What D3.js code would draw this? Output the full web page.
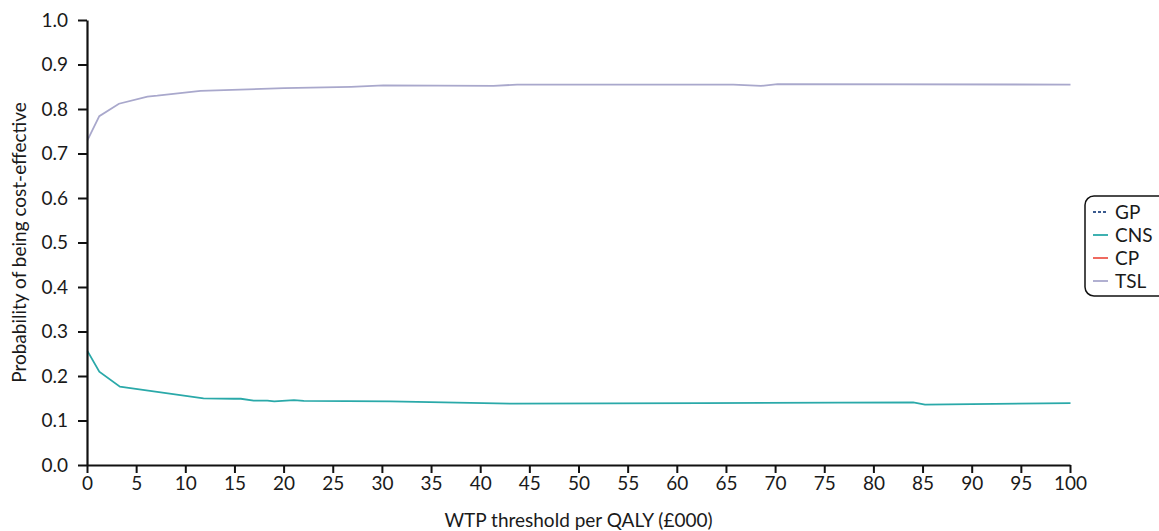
<!DOCTYPE html>
<html>
<head>
<meta charset="utf-8">
<script src="https://cdn.jsdelivr.net/npm/d3@7"></script>
<style>
  body { margin: 0; background: #fff; }
  text { font-family: Lato, "Open Sans", sans-serif; fill: #1a1a1a; }
</style>
</head>
<body>
<script>
// WTP threshold (£000) and probability of being cost-effective
var tslX = [0, 1.2, 3.2, 6.1, 7.1, 11.5, 20, 26.8, 30.1, 41.3, 43.7, 65.7, 68.5, 70.2, 100];
var tslY = [0.731, 0.785, 0.813, 0.829, 0.831, 0.842, 0.848, 0.851, 0.854, 0.853, 0.856, 0.856, 0.853, 0.857, 0.856];

var cnsX = [0, 1.2, 3.3, 4.0, 11.8, 14.9, 15.6, 16.9, 18.3, 19.0, 21.0, 22.0, 30.8, 43.3, 62.4, 84.0, 85.2, 100];
var cnsY = [0.257, 0.211, 0.177, 0.175, 0.151, 0.150, 0.150, 0.146, 0.146, 0.144, 0.147, 0.145, 0.144, 0.139, 0.140, 0.142, 0.137, 0.140];

// GP and CP are never cost-effective: they lie on the x axis
var zeroX = [0, 100];
var gpY = [0, 0];
var cpY = [0, 0];

var xTicks = d3.range(0, 101, 5);
var yTicks = d3.range(0, 1.01, 0.1);

var series = [
  {name: "GP", xs: zeroX, ys: gpY, color: "#3a5a8f", dash: "3,2"},
  {name: "CNS", xs: cnsX, ys: cnsY, color: "#2aa9a9", dash: null},
  {name: "CP", xs: zeroX, ys: cpY, color: "#ee5a4f", dash: null},
  {name: "TSL", xs: tslX, ys: tslY, color: "#a9a8cc", dash: null}
];

var width = 1159, height = 531;
var fs = 19;

var svg = d3.select("body")
  .append("svg")
  .attr("width", width)
  .attr("height", height);

var x = d3.scaleLinear().domain([0, 100]).range([87, 1070]);
var y = d3.scaleLinear().domain([0, 1]).range([465, 20]);

var line = d3.line()
  .x(function(d) { return x(d[0]); })
  .y(function(d) { return y(d[1]); });

// lines first, so the all-zero series hide under the axis
var plot = svg.append("g").attr("transform", "translate(0.5,0.5)");
series.forEach(function(s) {
  var pts = s.xs.map(function(v, i) { return [v, s.ys[i]]; });
  var flat = d3.max(s.ys) === 0;
  plot.append("path")
    .datum(pts)
    .attr("d", line)
    .attr("fill", "none")
    .attr("stroke", s.color)
    .attr("stroke-width", flat ? 1 : 1.8)
    .attr("stroke-dasharray", s.dash);
});

var xAxis = svg.append("g")
  .attr("transform", "translate(0," + y(0) + ")")
  .call(d3.axisBottom(x).tickValues(xTicks).tickSize(8).tickSizeOuter(0).tickFormat(d3.format("d")));

var yAxis = svg.append("g")
  .attr("transform", "translate(" + x(0) + ",0)")
  .call(d3.axisLeft(y).tickValues(yTicks).tickSize(9).tickSizeOuter(0).tickFormat(d3.format(".1f")));

[xAxis, yAxis].forEach(function(a) {
  a.select(".domain").attr("stroke", "#111").attr("stroke-width", 2.2);
  a.selectAll(".tick line").attr("stroke", "#111").attr("stroke-width", 2);
  a.selectAll(".tick text").attr("font-size", fs).attr("fill", "#1a1a1a")
    .style("font-family", "Lato, 'Open Sans', sans-serif");
});
xAxis.selectAll(".tick text").attr("y", 12).attr("dy", "0.71em");
yAxis.selectAll(".tick text").attr("x", -19);

svg.append("text")
  .attr("x", (x(0) + x(100)) / 2)
  .attr("y", 527)
  .attr("text-anchor", "middle")
  .attr("font-size", fs)
  .text("WTP threshold per QALY (£000)");

svg.append("text")
  .attr("transform", "translate(26," + ((y(0) + y(1)) / 2) + ") rotate(-90)")
  .attr("text-anchor", "middle")
  .attr("font-size", fs)
  .text("Probability of being cost-effective");

// legend
var lg = svg.append("g").attr("transform", "translate(1085,196)");
lg.append("rect")
  .attr("x", 0).attr("y", 0)
  .attr("width", 100).attr("height", 100)
  .attr("rx", 9)
  .attr("fill", "#fff")
  .attr("stroke", "#111")
  .attr("stroke-width", 1.5);

series.forEach(function(s, i) {
  var cy = 16 + i * 23;
  lg.append("line")
    .attr("x1", 8).attr("x2", 23)
    .attr("y1", cy).attr("y2", cy)
    .attr("stroke", s.color)
    .attr("stroke-width", 1.8)
    .attr("stroke-dasharray", s.dash);
  lg.append("text")
    .attr("x", 30).attr("y", cy)
    .attr("dy", "0.35em")
    .attr("font-size", fs)
    .text(s.name);
});
</script>
</body>
</html>
